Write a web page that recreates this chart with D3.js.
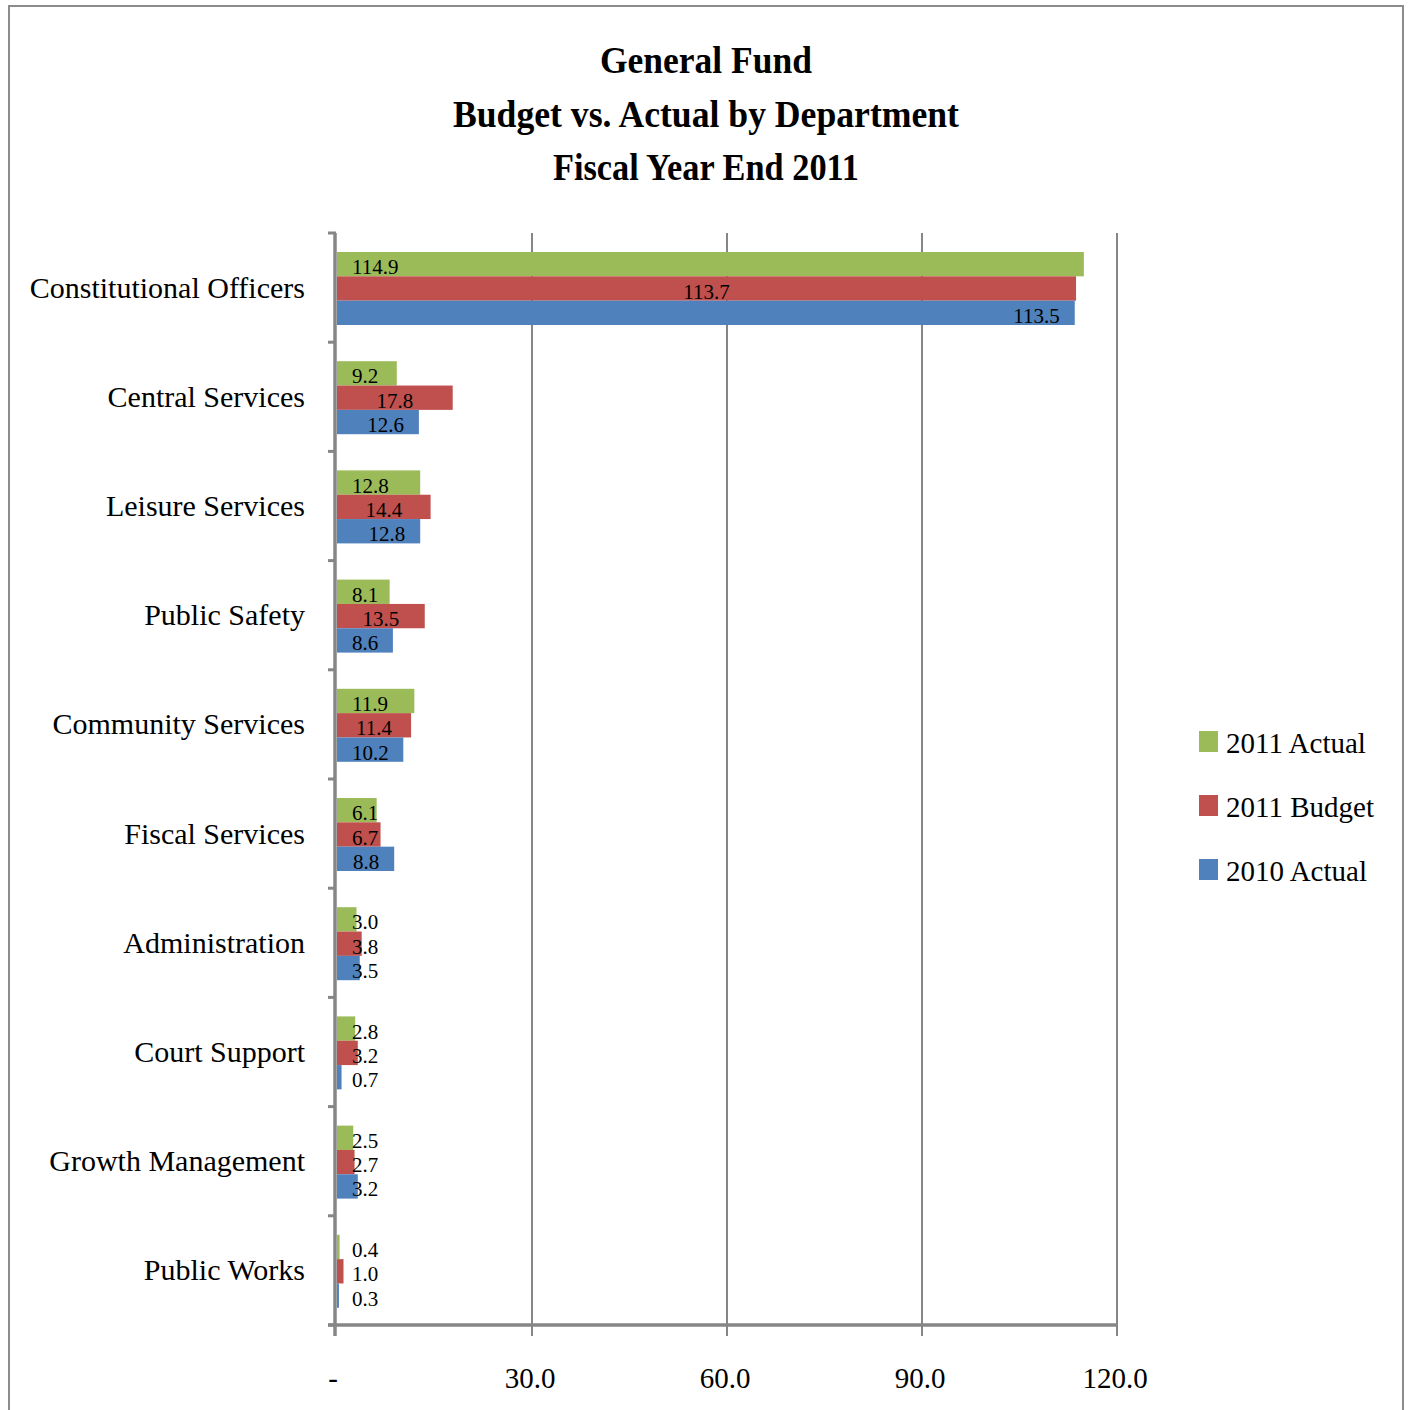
<!DOCTYPE html>
<html><head><meta charset="utf-8">
<script src="https://cdn.jsdelivr.net/npm/d3@7"></script>
<style>body{margin:0;background:#fff}text{font-family:"Liberation Serif",serif;fill:#000}</style>
</head><body><svg id="c" width="1408" height="1410"></svg>
<script>
const categories = ["Constitutional Officers","Central Services","Leisure Services","Public Safety","Community Services","Fiscal Services","Administration","Court Support","Growth Management","Public Works"];
const seriesNames = ["2011 Actual","2011 Budget","2010 Actual"];
const actual2011 = [114.9,9.2,12.8,8.1,11.9,6.1,3.0,2.8,2.5,0.4];
const budget2011 = [113.7,17.8,14.4,13.5,11.4,6.7,3.8,3.2,2.7,1.0];
const actual2010 = [113.5,12.6,12.8,8.6,10.2,8.8,3.5,0.7,3.2,0.3];
const xTicks = [0,30,60,90,120];
const titleLines = ["General Fund","Budget vs. Actual by Department","Fiscal Year End 2011"];
const colors = ["#9BBB59","#C0504D","#4F81BD"];
const seriesVals = [actual2011,budget2011,actual2010];

const svg = d3.select("#c");
// frame
svg.append("rect").attr("x",9).attr("y",6).attr("width",1394).attr("height",1420).attr("fill","none").attr("stroke","#8c8c8c").attr("stroke-width",2);

// title
const tw=[212,506,306];
titleLines.forEach((t,i)=>{
  svg.append("text").attr("x",706).attr("y",73+i*53.5).attr("text-anchor","middle")
   .attr("font-size",38).attr("font-weight","bold").attr("textLength",tw[i]).attr("lengthAdjust","spacingAndGlyphs").text(t);
});

const x = d3.scaleLinear().domain([0,120]).range([337,1117]);
const y0 = d3.scaleBand().domain(categories).range([233,1325]);
const y1 = d3.scaleBand().domain(seriesNames).range([19,92]);

// gridlines
svg.append("g").selectAll("line").data(xTicks.slice(1)).join("line")
  .attr("x1",d=>x(d)).attr("x2",d=>x(d)).attr("y1",233).attr("y2",1336)
  .attr("stroke","#868686").attr("stroke-width",2);
svg.append("line").attr("x1",335).attr("x2",335).attr("y1",1325).attr("y2",1336).attr("stroke","#868686").attr("stroke-width",2);

// y axis ticks
const yTickPos = categories.map(c=>y0(c)).concat([1325]);
svg.append("g").selectAll("line").data(yTickPos).join("line")
  .attr("x1",328).attr("x2",336).attr("y1",d=>d).attr("y2",d=>d).attr("stroke","#868686").attr("stroke-width",3);

// axes lines
svg.append("line").attr("x1",335).attr("x2",335).attr("y1",233).attr("y2",1336).attr("stroke","#868686").attr("stroke-width",3.5);
svg.append("line").attr("x1",328).attr("x2",1118).attr("y1",1325).attr("y2",1325).attr("stroke","#868686").attr("stroke-width",3.5);

// bars
const rows=[];
categories.forEach((c,ci)=>seriesNames.forEach((s,si)=>rows.push({c,s,si,v:seriesVals[si][ci]})));
svg.append("g").selectAll("rect").data(rows).join("rect")
  .attr("x",x(0)).attr("y",d=>y0(d.c)+y1(d.s)).attr("width",d=>x(d.v)-x(0)).attr("height",y1.bandwidth())
  .attr("fill",d=>colors[d.si]);

// value labels
const minX = 352;
svg.append("g").selectAll("text").data(rows).join("text")
  .attr("font-size",21)
  .attr("y",d=>y0(d.c)+y1(d.s)+y1.bandwidth()/2+10)
  .each(function(d){
    const el=d3.select(this).text(d.v.toFixed(1));
    const w=this.getComputedTextLength();
    let sx;
    const end=x(d.v);
    if(d.si===0) sx=minX;
    else if(d.si===1) sx=Math.max(minX,(x(0)+end)/2-w/2);
    else sx=Math.max(minX,end-15-w);
    el.attr("x",sx);
  });

// category labels
svg.append("g").selectAll("text").data(categories).join("text")
  .attr("x",305).attr("y",c=>y0(c)+y0.bandwidth()/2+10).attr("text-anchor","end")
  .attr("font-size",30).text(c=>c);

// x tick labels
svg.append("g").selectAll("text").data(xTicks).join("text")
  .attr("x",d=>x(d)).attr("y",1388).attr("text-anchor","middle").attr("font-size",29)
  .attr("dx",d=>d===0?-4:-2)
  .text(d=>d===0?"-":d.toFixed(1));

// legend
seriesNames.forEach((s,i)=>{
  const ly=731+i*64;
  svg.append("rect").attr("x",1199).attr("y",ly).attr("width",19).attr("height",21).attr("fill",colors[i]);
  svg.append("text").attr("x",1226).attr("y",ly+22).attr("font-size",29).text(s);
});
</script></body></html>
